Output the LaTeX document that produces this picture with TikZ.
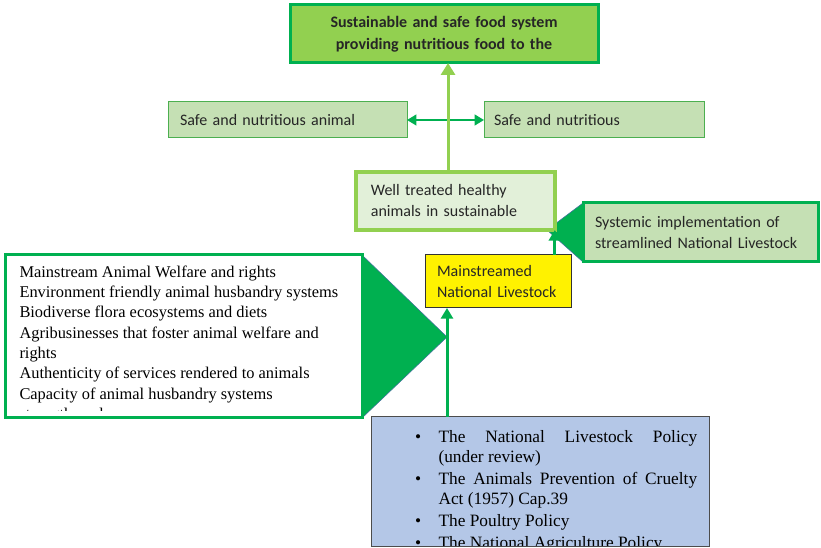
\documentclass[tikz,border=0pt]{standalone}
\usepackage{fontspec}
\setmainfont{Carlito}
\newfontfamily\tnr{Liberation Serif}
\usetikzlibrary{arrows.meta,backgrounds}

\definecolor{dkgreen}{HTML}{00B050}
\definecolor{ltgreen}{HTML}{92D050}
\definecolor{pagreen}{HTML}{C5E0B4}
\definecolor{pigreen}{HTML}{E2F0D9}
\definecolor{midgreen}{HTML}{4CAF50}
\definecolor{polblue}{HTML}{B4C7E7}
\definecolor{edgeblue}{HTML}{41719C}
\definecolor{txtgray}{HTML}{262626}

\tikzset{every picture/.style={line width=0.75pt}}
\tikzset{
  box/.style={rectangle, inner ysep=0pt, outer sep=0pt, text=txtgray, align=left,
    font=\fontsize{12}{15.75}\selectfont},
  lgarrow/.style={ltgreen, line width=2.25pt, -{Triangle[width=10.5pt,length=9pt]}},
  dgarrow/.style={dkgreen, line width=2.25pt, -{Triangle[width=9pt,length=8pt]}},
  dgboth/.style={dkgreen, line width=1.5pt, {Triangle[width=8pt,length=7pt]}-{Triangle[width=8pt,length=7pt]}},
}
\newcommand{\polbullet}{\leavevmode\llap{\textbullet\hspace{13pt}}}

\begin{document}
\begin{tikzpicture}[x=0.75pt,y=0.75pt,yscale=-1,xscale=1]
	\useasboundingbox (0,0) rectangle (821,548);

	% Goal box
	\node[box, draw=dkgreen, line width=2.25pt, fill=ltgreen, align=center, minimum width=231pt, minimum height=43.5pt, text width=213pt,
	  font=\fontsize{12}{16.5}\selectfont\bfseries] (goal) at (444,34) {Sustainable and safe food system\\providing nutritious food to the};

	% Middle row
	\node[box, draw=midgreen, fill=pagreen, minimum height=27pt, inner xsep=9pt, text width=161.25pt] (nutA) at (287.5,120) {Safe and nutritious animal};
	\node[box, draw=midgreen, fill=pagreen, minimum height=27pt, inner xsep=7.5pt, text width=150pt] (nutB) at (594,120) {Safe and nutritious};

	% Well treated animals
	\node[box, draw=ltgreen, line width=3pt, fill=pigreen, minimum height=43.5pt, inner xsep=11pt, text width=127pt] (well) at (455.5,201) {Well treated healthy\\animals in sustainable};

	% Systemic implementation callout
	\coordinate (rtip) at (547,230);
	\node[box, draw=dkgreen, line width=2.25pt, fill=pagreen, minimum height=44.25pt, inner xsep=9pt, text width=158.25pt] (sys) at (700.5,232.5) {Systemic implementation of\\streamlined National Livestock};
	\begin{scope}[on background layer]
	\draw[edgeblue, fill=dkgreen] (sys.north west) -- (rtip) -- (sys.south west) -- cycle;
	\end{scope}

	% Mainstreamed box
	\node[box, draw=black!80, fill=yellow, minimum height=39.75pt, inner xsep=9pt, text width=91.5pt] (main) at (498,281.5) {Mainstreamed\\National Livestock};

	% Left list callout
	\coordinate (ltip) at (447,337);
	\coordinate (lstcut) at (362,411);
	\node[box, fill=white, minimum width=267.75pt, minimum height=122.25pt] (lst) at (183.5,336.5) {};
	\begin{scope}[on background layer]
	\draw[edgeblue, fill=dkgreen] (lst.north east) -- (ltip) -- (lst.south east) -- cycle;
	\end{scope}
	\begin{scope}
	\clip (lst.north west) rectangle (lstcut);
	\node[anchor=north west, inner sep=0pt, align=left, text=black, font=\tnr\fontsize{12.3}{15.25}\selectfont] (lsttxt) at (19,265) {Mainstream Animal Welfare and rights\\
	  Environment friendly animal husbandry systems\\
	  Biodiverse flora ecosystems and diets\\
	  Agribusinesses that foster animal welfare and\\
	  rights\\
	  Authenticity of services rendered to animals\\
	  Capacity of animal husbandry systems\\
	  strengthened};
	\end{scope}
	\draw[dkgreen, line width=2.25pt] (lst.south west) rectangle (lst.north east);

	% Policy box
	\node[box, draw=black!70, fill=polblue, minimum width=253.5pt, minimum height=97.5pt] (pol) at (540,482) {};
	\begin{scope}
	\clip (pol.north west) rectangle (pol.south east);
	\node[anchor=north west, inner sep=0pt, text width=194pt, align=justify, text=black, font=\tnr\fontsize{13}{15}\selectfont] (poltxt) at (438,430) {%
	  \hyphenpenalty=10000\exhyphenpenalty=10000\parskip=1.6pt
	  \polbullet The National Livestock Policy\linebreak (under review)\par
	  \polbullet The Animals Prevention of Cruelty Act (1957) Cap.39\par
	  \polbullet The Poultry Policy\par
	  \polbullet The National Agriculture Policy};
	\end{scope}
	\draw[black!70] (pol.south west) rectangle (pol.north east);

	% Connectors
	\draw[dgboth] (nutA.east) -- (nutB.west);
	\coordinate (wt) at ([xshift=-5.6pt]well.north);
	\draw[lgarrow] (wt) -- (wt |- goal.south);
	\draw[dgarrow] (well.south east |- main.north) -- (well.south east);
	\draw[dgarrow] (ltip |- pol.north) -- (ltip |- main.south);
\end{tikzpicture}
\end{document}
